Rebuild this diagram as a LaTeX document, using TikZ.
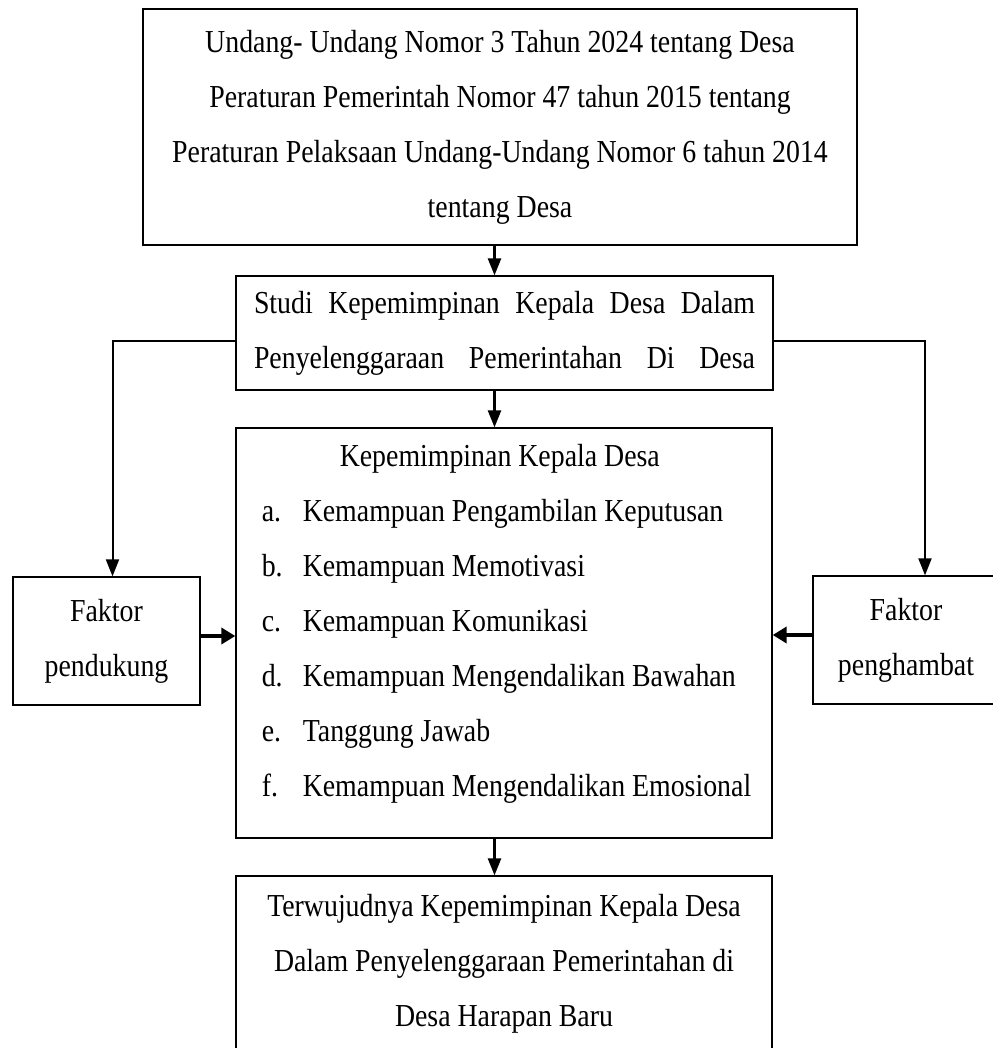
\documentclass[tikz,border=0pt]{standalone}
\usepackage{fontspec}
\setmainfont{Liberation Serif}[FakeStretch=0.87]
\usetikzlibrary{arrows.meta}

\begin{document}
\begin{tikzpicture}
	[
		x=1pt, y=-1pt,
		>={Triangle[length=17pt, width=13pt]},
		box/.style={draw, line width=1.3pt, align=center, inner sep=0pt, font=\fontsize{32}{55}\selectfont},
		link/.style={->, line width=2.5pt},
		elbow/.style={->, line width=2pt},
		push/.style={->, >={Triangle[length=14pt, width=16pt]}, line width=4pt}
	]

	\useasboundingbox (0,0) rectangle (992,1048);

	\def\axis{494.5}
	\def\gap{41pt}

	\coordinate
	[]
		(axis) at (\axis,0);

		\path (500,127) node
		[box, minimum width=714pt, minimum height=236pt]
		(undang)
		{Undang- Undang Nomor 3 Tahun 2024 tentang Desa\\
		Peraturan Pemerintah Nomor 47 tahun 2015 tentang\\
		Peraturan Pelaksaan Undang-Undang Nomor 6 tahun 2014\\
		tentang Desa};

		\path (504.5,333) node
		[box, minimum width=537pt, minimum height=114pt]
		(studi)
		{\makebox[501pt][s]{Studi Kepemimpinan Kepala Desa Dalam}\\
		\makebox[501pt][s]{Penyelenggaraan Pemerintahan Di Desa}};

		\path (504,633) node
		[box, align=left, minimum width=536pt, minimum height=410pt]
		(kepala)
		{\makebox[486pt]{Kepemimpinan Kepala Desa}\\
		\hspace*{5pt}\makebox[\gap][l]{a.}Kemampuan Pengambilan Keputusan\\
		\hspace*{5pt}\makebox[\gap][l]{b.}Kemampuan Memotivasi\\
		\hspace*{5pt}\makebox[\gap][l]{c.}Kemampuan Komunikasi\\
		\hspace*{5pt}\makebox[\gap][l]{d.}Kemampuan Mengendalikan Bawahan\\
		\hspace*{5pt}\makebox[\gap][l]{e.}Tanggung Jawab\\
		\hspace*{5pt}\makebox[\gap][l]{f.}Kemampuan Mengendalikan Emosional\rule[-25pt]{0pt}{25pt}};

		\path (106.5,641) node
		[box, minimum width=187pt, minimum height=128pt]
		(pendukung)
		{Faktor\\pendukung};

		\path (906,640) node
		[box, minimum width=186pt, minimum height=128pt]
		(penghambat)
		{Faktor\\penghambat};

		\path (504,964) node
		[box, minimum width=536pt, minimum height=176pt]
		(hasil)
		{Terwujudnya Kepemimpinan Kepala Desa\\
		Dalam Penyelenggaraan Pemerintahan di\\
		Desa Harapan Baru};

		\path
		[link]
		(undang.south -| axis)  edge (studi.north -| axis)
		(studi.south -| axis)   edge (kepala.north -| axis)
		(kepala.south -| axis)  edge (hasil.north -| axis);

		\draw [elbow] ([yshift=-8pt]studi.west) -| ([xshift=6pt]pendukung.north);
		\draw [elbow] ([yshift=-8pt]studi.east) -| ([xshift=19pt]penghambat.north);

		\coordinate (pushL) at ([yshift=5pt]pendukung.east);
		\coordinate (pushR) at ([yshift=5pt]penghambat.west);
		\draw [push] (pushL) -- (pushL -| kepala.west);
		\draw [push] (pushR) -- (pushR -| kepala.east);

\end{tikzpicture}
\end{document}
